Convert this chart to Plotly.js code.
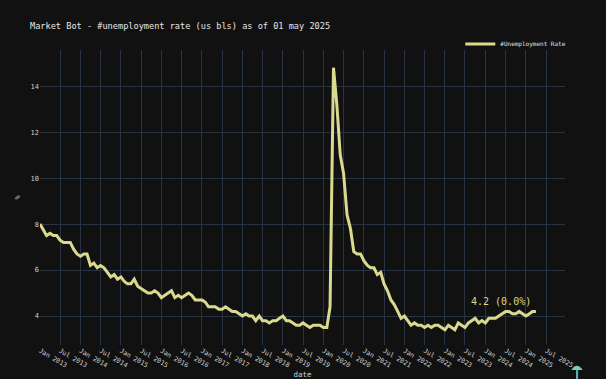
<!DOCTYPE html>
<html>
<head>
<meta charset="utf-8">
<script src="https://cdn.plot.ly/plotly-3.0.1.min.js"></script>
<style>
  html, body { margin: 0; padding: 0; background: #111111; }
  #chart { width: 606px; height: 379px; }
</style>
</head>
<body>
<div id="chart"></div>
<script>
// Monthly US unemployment rate (BLS), Jan 2013 - Apr 2025
const startYear = 2013;
const rate2013 = [8.0, 7.7, 7.5, 7.6, 7.5, 7.5, 7.3, 7.2, 7.2, 7.2, 6.9, 6.7];
const rate2014 = [6.6, 6.7, 6.7, 6.2, 6.3, 6.1, 6.2, 6.1, 5.9, 5.7, 5.8, 5.6];
const rate2015 = [5.7, 5.5, 5.4, 5.4, 5.6, 5.3, 5.2, 5.1, 5.0, 5.0, 5.1, 5.0];
const rate2016 = [4.8, 4.9, 5.0, 5.1, 4.8, 4.9, 4.8, 4.9, 5.0, 4.9, 4.7, 4.7];
const rate2017 = [4.7, 4.6, 4.4, 4.4, 4.4, 4.3, 4.3, 4.4, 4.3, 4.2, 4.2, 4.1];
const rate2018 = [4.0, 4.1, 4.0, 4.0, 3.8, 4.0, 3.8, 3.8, 3.7, 3.8, 3.8, 3.9];
const rate2019 = [4.0, 3.8, 3.8, 3.7, 3.6, 3.6, 3.7, 3.6, 3.5, 3.6, 3.6, 3.6];
const rate2020 = [3.5, 3.5, 4.4, 14.8, 13.2, 11.0, 10.2, 8.4, 7.8, 6.8, 6.7, 6.7];
const rate2021 = [6.4, 6.2, 6.1, 6.1, 5.8, 5.9, 5.4, 5.1, 4.7, 4.5, 4.2, 3.9];
const rate2022 = [4.0, 3.8, 3.6, 3.7, 3.6, 3.6, 3.5, 3.6, 3.5, 3.6, 3.6, 3.5];
const rate2023 = [3.4, 3.6, 3.5, 3.4, 3.7, 3.6, 3.5, 3.7, 3.8, 3.9, 3.7, 3.8];
const rate2024 = [3.7, 3.9, 3.9, 3.9, 4.0, 4.1, 4.2, 4.2, 4.1, 4.1, 4.2, 4.1];
const rate2025 = [4.0, 4.1, 4.2, 4.2];

const seriesName = '#Unemployment Rate';
const chartTitle = 'Market Bot - #unemployment rate (us bls) as of 01 may 2025';

const yearly = [rate2013, rate2014, rate2015, rate2016, rate2017, rate2018, rate2019,
                rate2020, rate2021, rate2022, rate2023, rate2024, rate2025];
const dates = [];
const values = [];
yearly.forEach((arr, yi) => {
  arr.forEach((v, mi) => {
    const y = startYear + yi;
    const m = String(mi + 1).padStart(2, '0');
    dates.push(`${y}-${m}-01`);
    values.push(v);
  });
});

const lastVal = values[values.length - 1];
const prevVal = values[values.length - 2];
const pct = ((lastVal - prevVal) / prevVal * 100).toFixed(1);
const annText = `${lastVal.toFixed(1)} (${pct}%)`;

const lineColor = '#d9d98f';
const mono = 'DejaVu Sans Mono, monospace';
const tickColor = '#cfcfcf';

const trace = {
  x: dates,
  y: values,
  type: 'scatter',
  mode: 'lines',
  name: seriesName,
  line: { color: lineColor, width: 3 },
  showlegend: true
};

const layout = {
  width: 606,
  height: 379,
  paper_bgcolor: '#111111',
  plot_bgcolor: '#111111',
  margin: { l: 40, r: 41, t: 50, b: 34 },
  font: { family: mono, color: tickColor, size: 7 },
  title: {
    text: chartTitle,
    font: { family: mono, size: 8.6, color: '#e6e6e6' },
    x: 30 / 606,
    xanchor: 'left',
    y: 1 - 25.5 / 379,
    yanchor: 'middle'
  },
  showlegend: true,
  legend: {
    orientation: 'h',
    x: 1.012,
    xanchor: 'right',
    y: 1.02,
    yanchor: 'middle',
    itemwidth: 30,
    bgcolor: 'rgba(0,0,0,0)',
    font: { family: mono, size: 6, color: '#e0e0e0' }
  },
  xaxis: {
    type: 'date',
    range: ['2013-01-01', '2025-12-19'],
    tick0: '2013-01-01',
    dtick: 'M6',
    tickformat: '%b %Y',
    tickangle: 30,
    tickfont: { family: mono, size: 6.5, color: tickColor },
    gridcolor: '#283442',
    gridwidth: 1,
    showline: false,
    zeroline: false,
    automargin: false,
    title: { text: 'date', font: { family: mono, size: 7.5, color: tickColor }, standoff: 4 }
  },
  yaxis: {
    range: [2.74, 15.57],
    tick0: 0,
    dtick: 2,
    tickfont: { family: mono, size: 7, color: tickColor },
    gridcolor: '#283442',
    gridwidth: 1,
    zeroline: false,
    showline: false,
    automargin: false,
    title: { text: '%', font: { family: mono, size: 7, color: tickColor }, standoff: 9 }
  },
  annotations: [{
    x: dates[dates.length - 1],
    y: lastVal,
    xref: 'x',
    yref: 'y',
    text: annText,
    showarrow: false,
    xanchor: 'right',
    yanchor: 'bottom',
    xshift: -3,
    yshift: 2,
    font: { family: mono, size: 10, color: lineColor }
  }],
  shapes: [
    { type: 'path', xref: 'paper', yref: 'paper', layer: 'above',
      path: 'M 1.012 -0.085 Q 1.022 -0.055 1.034 -0.085 Z',
      fillcolor: '#7fd0a8', line: { width: 0 } },
    { type: 'rect', xref: 'paper', yref: 'paper', layer: 'above',
      x0: 1.021, x1: 1.025, y0: -0.085, y1: -0.115,
      fillcolor: '#5fb0b0', line: { width: 0 } }
  ]
};

Plotly.newPlot('chart', [trace], layout, { displayModeBar: false, staticPlot: true });
</script>
</body>
</html>
